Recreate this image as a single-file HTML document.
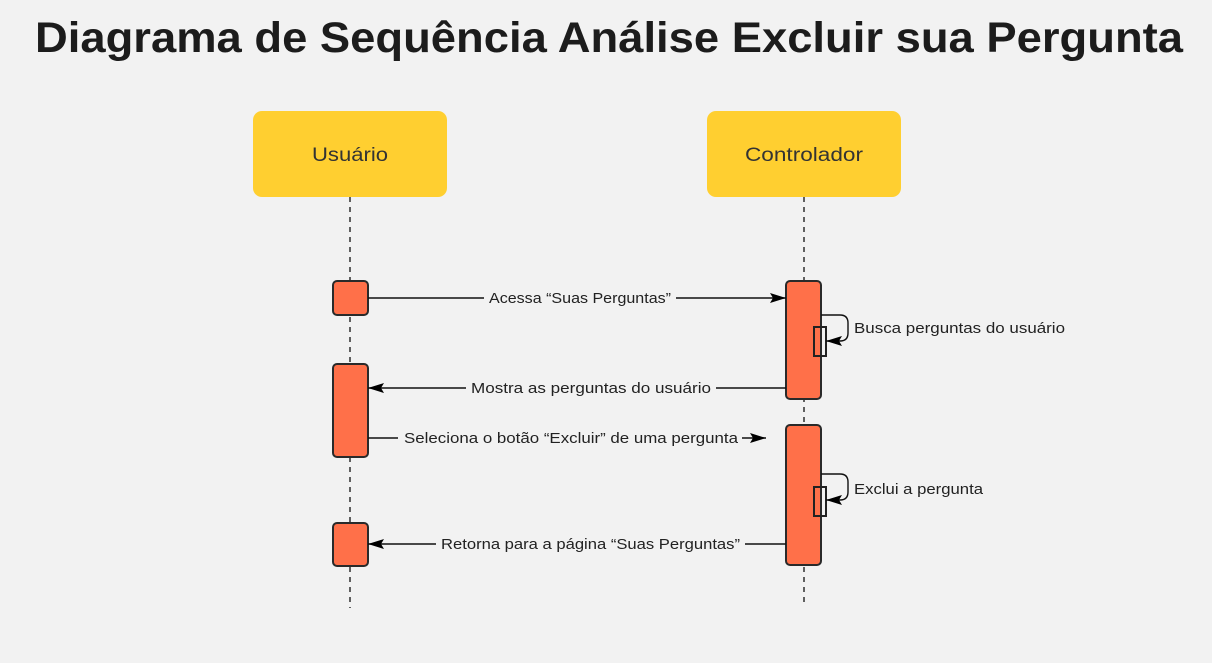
<!DOCTYPE html>
<html><head><meta charset="utf-8"><style>
html,body{margin:0;padding:0;background:#f2f2f2;}
svg{display:block;font-family:"Liberation Sans",sans-serif;}
</style></head><body>
<svg width="1212" height="663" viewBox="0 0 1212 663" xmlns="http://www.w3.org/2000/svg">
<defs>
<marker id="a" markerWidth="16" markerHeight="10" refX="16" refY="5" orient="auto" markerUnits="userSpaceOnUse"><path d="M0,0 L16,5 L0,10 L3,5 Z" fill="#000"/></marker>
</defs>
<rect width="1212" height="663" fill="#f2f2f2"/>
<text x="609" y="52" text-anchor="middle" font-size="43" font-weight="bold" fill="#1c1c1c" textLength="1148" lengthAdjust="spacingAndGlyphs">Diagrama de Sequência Análise Excluir sua Pergunta</text>
<rect x="253" y="111" width="194" height="86" rx="9" fill="#ffcf30"/>
<rect x="707" y="111" width="194" height="86" rx="9" fill="#ffcf30"/>
<text x="350" y="161" text-anchor="middle" font-size="19" fill="#333" textLength="76" lengthAdjust="spacingAndGlyphs">Usuário</text>
<text x="804" y="161" text-anchor="middle" font-size="19" fill="#333" textLength="118" lengthAdjust="spacingAndGlyphs">Controlador</text>
<line x1="350" y1="197" x2="350" y2="608" stroke="#111" stroke-width="1.3" stroke-dasharray="5,5"/>
<line x1="804" y1="197" x2="804" y2="603" stroke="#111" stroke-width="1.3" stroke-dasharray="5,5"/>
<g fill="#ff7049" stroke="#2a2a2a" stroke-width="2">
<rect x="333" y="281" width="35" height="34" rx="4"/>
<rect x="333" y="364" width="35" height="93" rx="4"/>
<rect x="333" y="523" width="35" height="43" rx="4"/>
<rect x="786" y="281" width="35" height="118" rx="4"/>
<rect x="786" y="425" width="35" height="140" rx="4"/>
</g>
<g fill="none" stroke="#222" stroke-width="2">
<rect x="814" y="327" width="12" height="29"/>
<rect x="814" y="487" width="12" height="29"/>
</g>
<g fill="none" stroke="#111" stroke-width="1.4">
<path d="M821,315 H840 Q848,315 848,323 V333 Q848,341 840,341 H826" marker-end="url(#a)"/>
<path d="M821,474 H840 Q848,474 848,482 V492 Q848,500 840,500 H826" marker-end="url(#a)"/>
<line x1="368" y1="298" x2="484" y2="298"/>
<line x1="676" y1="298" x2="786" y2="298" marker-end="url(#a)"/>
<line x1="786" y1="388" x2="716" y2="388"/>
<line x1="466" y1="388" x2="368" y2="388" marker-end="url(#a)"/>
<line x1="368" y1="438" x2="398" y2="438"/>
<line x1="742" y1="438" x2="766" y2="438" marker-end="url(#a)"/>
<line x1="786" y1="544" x2="745" y2="544"/>
<line x1="436" y1="544" x2="368" y2="544" marker-end="url(#a)"/>
</g>
<g font-size="15" fill="#222" lengthAdjust="spacingAndGlyphs">
<text x="489" y="303" textLength="182" lengthAdjust="spacingAndGlyphs">Acessa “Suas Perguntas”</text>
<text x="471" y="393" textLength="240" lengthAdjust="spacingAndGlyphs">Mostra as perguntas do usuário</text>
<text x="404" y="443" textLength="334" lengthAdjust="spacingAndGlyphs">Seleciona o botão “Excluir” de uma pergunta</text>
<text x="441" y="549" textLength="299" lengthAdjust="spacingAndGlyphs">Retorna para a página “Suas Perguntas”</text>
<text x="854" y="333" textLength="211" lengthAdjust="spacingAndGlyphs">Busca perguntas do usuário</text>
<text x="854" y="494" textLength="129" lengthAdjust="spacingAndGlyphs">Exclui a pergunta</text>
</g>
</svg>
</body></html>
